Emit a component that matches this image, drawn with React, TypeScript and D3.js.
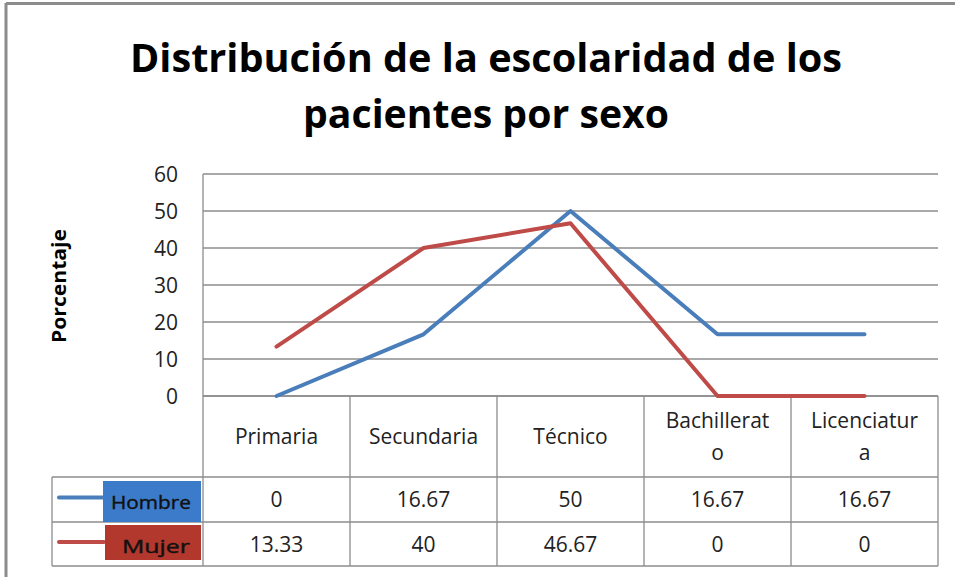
import * as d3 from "d3";
import { useEffect, useRef } from "react";

const categories = ["Primaria", "Secundaria", "Técnico", "Bachillerato", "Licenciatura"];
// how the header cells wrap in the reference
const categoryLines = [["Primaria"], ["Secundaria"], ["Técnico"], ["Bachillerat", "o"], ["Licenciatur", "a"]];
const hombre = [0, 16.67, 50, 16.67, 16.67];
const mujer = [13.33, 40, 46.67, 0, 0];
const hombreLabels = ["0", "16.67", "50", "16.67", "16.67"];
const mujerLabels = ["13.33", "40", "46.67", "0", "0"];
const yTicks = [0, 10, 20, 30, 40, 50, 60];

const FONT = "'Open Sans', 'Noto Sans', sans-serif";
const BLUE = "#4a7ebb";
const RED = "#be4b48";

const App = () => {
    const ref = useRef<SVGSVGElement>(null);

    useEffect(() => {
        const svg = d3.select(ref.current);
        svg.selectAll("*").remove();

        const left = 203, right = 938, top = 174, bottom = 396;
        const x = d3.scaleBand().domain(categories).range([left, right]);
        const y = d3.scaleLinear().domain([0, 60]).range([bottom, top]);

        svg.append("rect").attr("width", 955).attr("height", 577).attr("fill", "#fff");

        // outer chart border (only top and left show)
        svg.append("line").attr("x1", 6).attr("x2", 955).attr("y1", 3.5).attr("y2", 3.5)
            .attr("stroke", "#8c8c8c").attr("stroke-width", 3);
        svg.append("line").attr("x1", 6).attr("x2", 6).attr("y1", 3).attr("y2", 577)
            .attr("stroke", "#8c8c8c").attr("stroke-width", 3);

        // title
        const title = svg.append("text").attr("font-family", FONT).attr("font-weight", "bold")
            .attr("font-size", 40).attr("text-anchor", "middle").attr("fill", "#000");
        title.append("tspan").attr("x", 486).attr("y", 72)
            .attr("textLength", 712).attr("lengthAdjust", "spacingAndGlyphs")
            .text("Distribución de la escolaridad de los");
        title.append("tspan").attr("x", 486).attr("y", 128)
            .attr("textLength", 366).attr("lengthAdjust", "spacingAndGlyphs")
            .text("pacientes por sexo");

        // gridlines
        svg.append("g").selectAll("line").data(yTicks).join("line")
            .attr("x1", left).attr("x2", right)
            .attr("y1", (d) => y(d)).attr("y2", (d) => y(d))
            .attr("stroke", "#8c8c8c").attr("stroke-width", 1.3);
        svg.append("line").attr("x1", left).attr("x2", left).attr("y1", top).attr("y2", bottom)
            .attr("stroke", "#8c8c8c").attr("stroke-width", 1.3);

        // y tick labels
        svg.append("g").selectAll("text").data(yTicks).join("text")
            .attr("x", 178).attr("y", (d) => y(d) + 7.5)
            .attr("text-anchor", "end").attr("font-family", FONT).attr("font-size", 21)
            .attr("fill", "#222").text((d) => d);

        // y axis title
        svg.append("text").attr("transform", "translate(66,286) rotate(-90)")
            .attr("text-anchor", "middle").attr("font-family", FONT).attr("font-weight", "bold")
            .attr("font-size", 19).attr("textLength", 114).attr("lengthAdjust", "spacingAndGlyphs")
            .attr("fill", "#000").text("Porcentaje");

        // data table
        const rowTop = [396, 477, 522, 566];
        const grid = svg.append("g").attr("stroke", "#8c8c8c").attr("stroke-width", 1.3);
        const cols = categories.map((c) => x(c)!).concat([right]);
        cols.forEach((cx) => {
            grid.append("line").attr("x1", cx).attr("x2", cx).attr("y1", bottom).attr("y2", rowTop[3]);
        });
        grid.append("line").attr("x1", 52).attr("x2", 52).attr("y1", rowTop[1]).attr("y2", rowTop[3]);
        grid.append("line").attr("x1", left).attr("x2", right).attr("y1", rowTop[0]).attr("y2", rowTop[0]);
        [1, 2, 3].forEach((i) => {
            grid.append("line").attr("x1", 52).attr("x2", right).attr("y1", rowTop[i]).attr("y2", rowTop[i]);
        });

        const cx = (c: string) => x(c)! + x.bandwidth() / 2;

        categoryLines.forEach((lines, i) => {
            const t = svg.append("text").attr("text-anchor", "middle").attr("font-family", FONT)
                .attr("font-size", 21).attr("fill", "#222");
            if (lines.length === 1) {
                t.append("tspan").attr("x", cx(categories[i])).attr("y", 444).text(lines[0]);
            } else {
                lines.forEach((l, j) => t.append("tspan").attr("x", cx(categories[i])).attr("y", 428 + j * 32).text(l));
            }
        });

        const rows = [
            { name: "Hombre", values: hombre, labels: hombreLabels, color: BLUE, box: "#3c7bc9", y0: rowTop[1], y1: rowTop[2] },
            { name: "Mujer", values: mujer, labels: mujerLabels, color: RED, box: "#b2372c", y0: rowTop[2], y1: rowTop[3] },
        ];

        rows.forEach((r) => {
            svg.append("g").selectAll("text").data(r.labels).join("text")
                .attr("x", (_, i) => cx(categories[i])).attr("y", (r.y0 + r.y1) / 2 + 7.5)
                .attr("text-anchor", "middle").attr("font-family", FONT).attr("font-size", 21)
                .attr("fill", "#222").text((d) => d);

            // legend key
            const my = (r.y0 + r.y1) / 2;
            const hom = r.name === "Hombre";
            svg.append("line").attr("x1", 59).attr("x2", 104).attr("y1", my - 2).attr("y2", my - 2)
                .attr("stroke", r.color).attr("stroke-width", 4).attr("stroke-linecap", "round");
            svg.append("rect").attr("x", hom ? 103 : 105).attr("y", r.y0 + (hom ? 4 : 3))
                .attr("width", hom ? 98 : 96).attr("height", r.y1 - r.y0 - (hom ? 4 : 9))
                .attr("fill", r.box);
            svg.append("text").attr("x", hom ? 151 : 156).attr("y", my + 9).attr("text-anchor", "middle")
                .attr("font-family", FONT).attr("font-size", 18)
                .attr("textLength", hom ? 80 : 68).attr("lengthAdjust", "spacingAndGlyphs")
                .attr("fill", "#111").attr("stroke", "#111").attr("stroke-width", 0.4)
                .text(r.name);

            // series line
            const line = d3.line<number>().x((_, i) => cx(categories[i])).y((d) => y(d));
            svg.append("path").datum(r.values).attr("d", line).attr("fill", "none")
                .attr("stroke", r.color).attr("stroke-width", 4).attr("stroke-linejoin", "round")
                .attr("stroke-linecap", "round");
        });
    }, []);

    return (
        <svg ref={ref} width={955} height={577} style={{ position: "absolute", left: 0, top: 0 }} />
    );
};

export default App;
